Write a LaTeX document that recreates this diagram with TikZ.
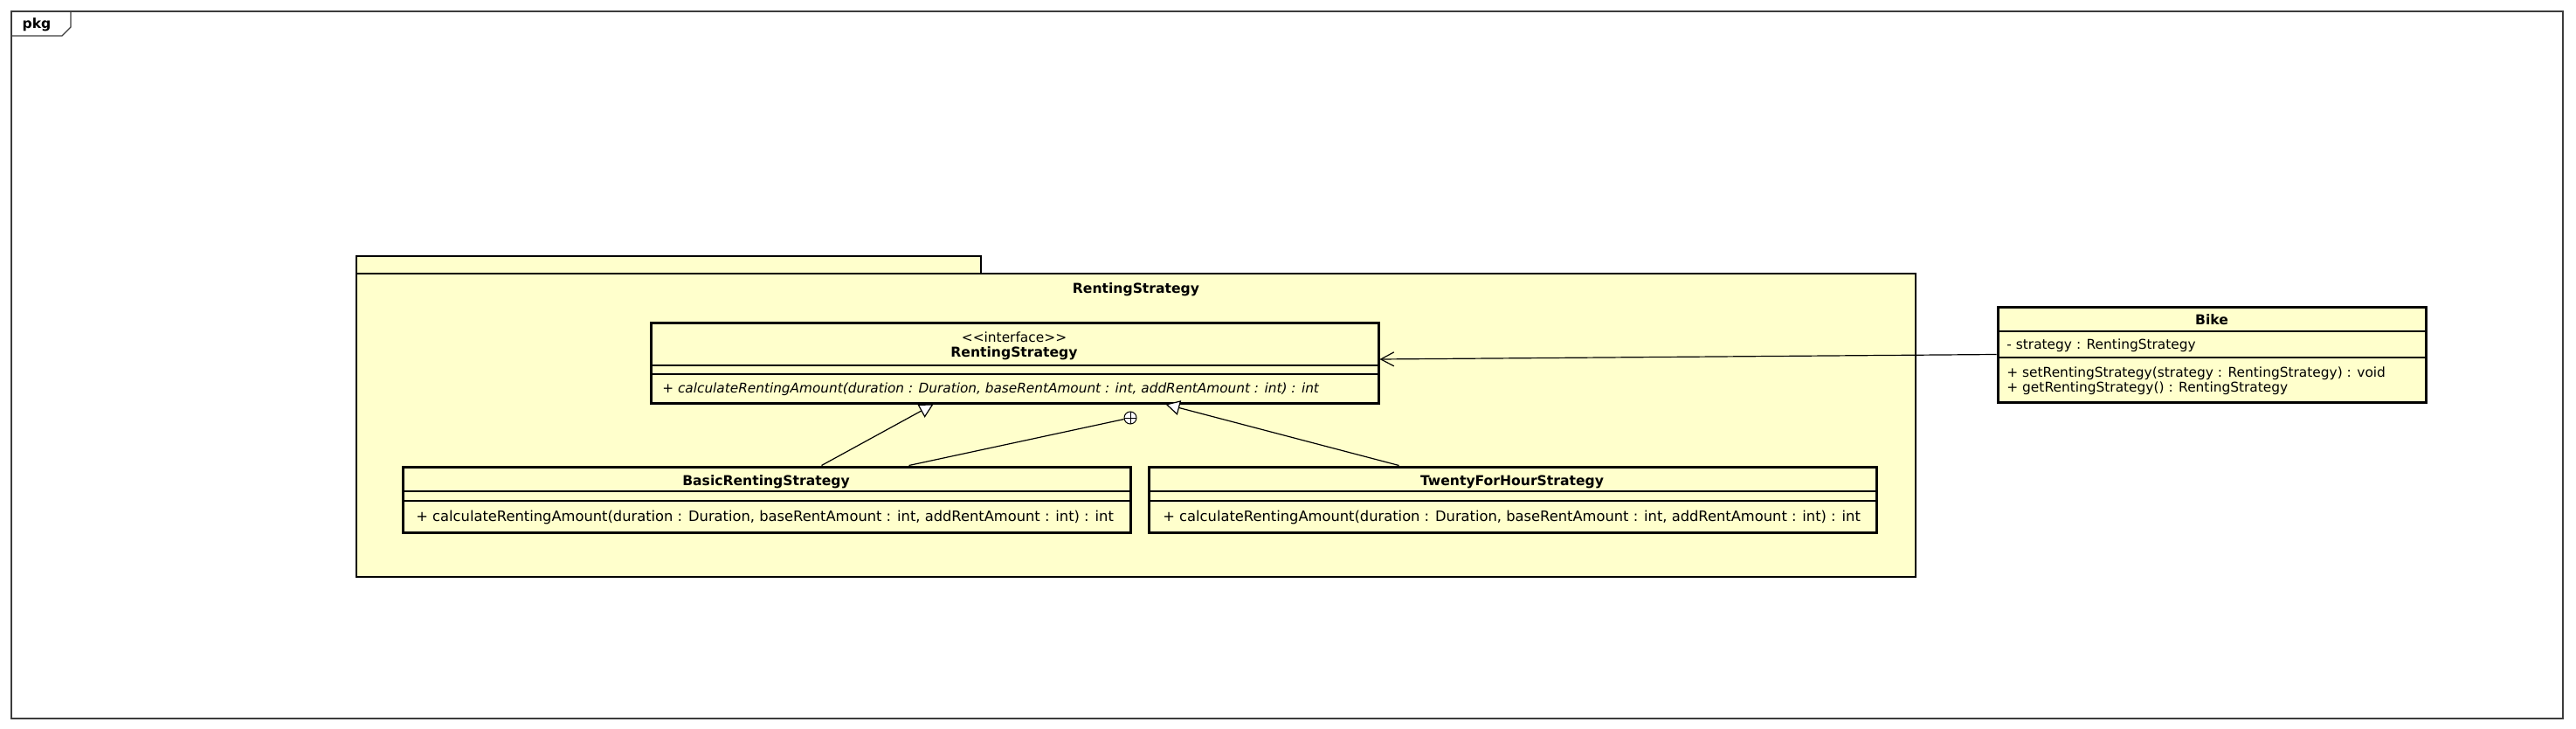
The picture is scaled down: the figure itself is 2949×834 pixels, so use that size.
\documentclass[tikz,border=0pt]{standalone}
\usepackage{fontspec}
\setmainfont{DejaVu Sans}
\definecolor{umlyellow}{RGB}{255,255,204}
\definecolor{umlgray}{RGB}{60,60,60}
\usetikzlibrary{
	arrows.meta,
	positioning,
	calc,
	fit
}
\tikzset{
  % frame
	umlframe/.style   ={draw=umlgray, line width=0.6pt},
	umlpkg/.style     ={draw=black, fill=umlyellow, line width=1.2pt, inner sep=0pt},
  % node
	umlclass/.style   ={draw=black, fill=umlyellow, line width=1.5pt, inner sep=0pt},
	umlsep/.style     ={line width=0.6pt},
	umltext/.style    ={inner sep=0pt, font=\fontsize{7.7}{9}\selectfont},
	umlname/.style    ={inner sep=0pt, font=\fontsize{7.8}{9}\selectfont\bfseries},
	umlitalic/.style  ={inner sep=0pt, anchor=west, font=\fontsize{7.65}{9}\selectfont\itshape},
	umlleft/.style    ={umltext, anchor=west},
	umlwide/.style    ={inner sep=0pt, anchor=west, font=\fontsize{8.15}{9}\selectfont},
	umlnest/.style    ={circle, draw=black, fill=white, line width=0.5pt, minimum size=7pt, inner sep=0pt,
		path picture={\draw[line width=0.4pt] (path picture bounding box.north) -- (path picture bounding box.south)
			(path picture bounding box.west) -- (path picture bounding box.east);}},
  % arrow
	umlreal/.style    ={-{Triangle[fill=white,length=8pt,width=8.5pt]}, line width=0.6pt}, % realization
	umlassoc/.style   ={-{Straight Barb[length=7.5pt,width=8pt]}, line width=0.6pt}  % navigable association
}

\begin{document}
\begin{tikzpicture}[x=0.5pt,y=-0.5pt]
	\useasboundingbox (0,0) rectangle (2949,834);
	% outer frame
	\draw[umlframe] (13,13) rectangle (2934,822);
	\draw[umlframe] (13,41) -- (71,41) -- (81,31) -- (81,13);
	\node[umlname] (pkglabel) at (42,28) {pkg};
	% package
	\node[umlpkg, fit={(408,293) (1123,313)}] (pkgtab) {};
	\node[umlpkg, fit={(408,313) (2193,660)}] (pkgbody) {};
	\node[umlname] (pkgname) at ($(pkgbody.north)+(0,19)$) {RentingStrategy};
	% interface
	\node[umlclass, fit={(745,369) (1578,461)}] (iface) {};
	\draw[umlsep] (745,418) -- (1578,418);
	\draw[umlsep] (745,428) -- (1578,428);
	\node[umltext] (ifacest) at (1161,386) {<{}<interface>{}>};
	\node[umlname] (ifacename) at (1161,404) {RentingStrategy};
	\node[umlitalic] (ifaceop) at (758,445) {+ calculateRentingAmount(duration : Duration, baseRentAmount : int, addRentAmount : int) : int};
	% classes
	\node[umlclass, fit={(461,534) (1294,609)}] (basic) {};
	\draw[umlsep] (461,562) -- (1294,562);
	\draw[umlsep] (461,573) -- (1294,573);
	\node[umlname] (basicname) at (877,551) {BasicRentingStrategy};
	\node[umlwide] (basicop) at (476,592) {+ calculateRentingAmount(duration : Duration, baseRentAmount : int, addRentAmount : int) : int};
	\node[umlclass, fit={(1315,534) (2148,609)}] (twenty) {};
	\draw[umlsep] (1315,562) -- (2148,562);
	\draw[umlsep] (1315,573) -- (2148,573);
	\node[umlname] (twentyname) at (1731,551) {TwentyForHourStrategy};
	\node[umlwide] (twentyop) at (1331,592) {+ calculateRentingAmount(duration : Duration, baseRentAmount : int, addRentAmount : int) : int};
	\node[umlclass, fit={(2287,351) (2777,460)}] (bike) {};
	\draw[umlsep] (2287,379) -- (2777,379);
	\draw[umlsep] (2287,409) -- (2777,409);
	\node[umlname] (bikename) at (2532,366) {Bike};
	\node[umlleft] (bikeattr) at (2297,395) {- strategy : RentingStrategy};
	\node[umlleft] (bikeop1) at (2297,427) {+ setRentingStrategy(strategy : RentingStrategy) : void};
	\node[umlleft] (bikeop2) at (2297,444) {+ getRentingStrategy() : RentingStrategy};
	% connectors
	\node[umlnest] (nest) at (1294,478) {};
	\draw[umlreal] ($(basic.north)+(63,0)$) -- ($(iface.south)+(-93,0)$);
	\draw[umlsep] ($(basic.north)+(163,0)$) -- (nest);
	\draw[umlreal] ($(twenty.north)+(-130,0)$) -- ($(iface.south)+(173,0)$);
	\draw[umlassoc] (bike.west) -- ([yshift=2pt]iface.east);
\end{tikzpicture}
\end{document}
